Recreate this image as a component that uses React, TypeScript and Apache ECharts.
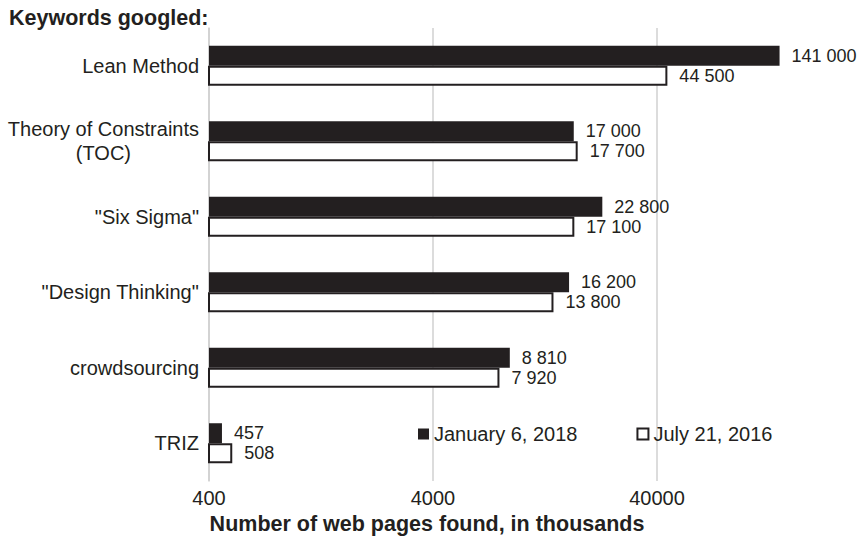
import React, { useEffect, useRef } from "react";
import * as echarts from "echarts";

const categories = [
  "Lean Method",
  "Theory of Constraints\n(TOC)",
  "\"Six Sigma\"",
  "\"Design Thinking\"",
  "crowdsourcing",
  "TRIZ",
];
const jan2018 = [141000, 17000, 22800, 16200, 8810, 457];
const jul2016 = [44500, 17700, 17100, 13800, 7920, 508];
const tickValues = [400, 4000, 40000];
const seriesNames = ["January 6, 2018", "July 21, 2016"];

const FONT = "'Liberation Sans', Arial, sans-serif";
const INK = "#231f20";

const fmt = (v: number) => String(v).replace(/\B(?=(\d{3})+(?!\d))/g, " ");

export default function App() {
  const ref = useRef<HTMLDivElement>(null);
  useEffect(() => {
    if (!ref.current) return;
    const chart = echarts.init(ref.current, null, { renderer: "svg" });
    const valueLabel = {
      show: true,
      position: "right",
      distance: 12,
      fontFamily: FONT,
      fontSize: 18,
      color: INK,
      formatter: (p: any) => fmt(p.value),
    };
    chart.setOption({
      animation: false,
      textStyle: { fontFamily: FONT, color: INK },
      title: {
        text: "Keywords googled:",
        left: 4,
        top: 2,
        textStyle: { fontFamily: FONT, fontSize: 21.5, fontWeight: "bold", color: INK },
      },
      legend: {
        left: 413,
        top: 419,
        itemGap: 59,
        itemWidth: 11,
        itemHeight: 11,
        icon: "rect",
        textStyle: { fontFamily: FONT, fontSize: 20, color: INK },
        data: [
          { name: seriesNames[0], itemStyle: { color: INK, borderWidth: 0 } },
          { name: seriesNames[1], itemStyle: { color: "#fff", borderColor: INK, borderWidth: 2 } },
        ],
      },
      // the 400 000 edge of the log scale lies just past the right border
      grid: {
        left: 209,
        width: 672,
        top: 28,
        bottom: 61,
        containLabel: false,
        outerBoundsMode: "none",
      },
      xAxis: {
        type: "log",
        logBase: 10,
        min: 400,
        max: 400000,
        name: "Number of web pages found, in thousands",
        nameLocation: "middle",
        nameGap: 32,
        nameTextStyle: {
          fontFamily: FONT,
          fontSize: 21.5,
          fontWeight: "bold",
          color: INK,
          padding: [0, 236, 0, 0],
        },
        axisLine: { show: false },
        axisTick: { show: false, customValues: tickValues },
        axisLabel: {
          customValues: tickValues,
          fontFamily: FONT,
          fontSize: 20,
          color: INK,
          margin: 7,
          formatter: (v: number) => String(Math.round(v)),
        },
        splitLine: { show: true, lineStyle: { color: "#d0d0d0", width: 1.5 } },
      },
      yAxis: {
        type: "category",
        inverse: true,
        data: categories,
        axisLine: { show: true, lineStyle: { color: "#d0d0d0", width: 1.5 } },
        axisTick: { show: false },
        axisLabel: {
          fontFamily: FONT,
          fontSize: 20,
          color: INK,
          margin: 10,
          lineHeight: 24,
          formatter: (v: string) =>
            v
              .split("\n")
              .map((line) => `{c|${line}}`)
              .join("\n"),
          rich: {
            c: { fontFamily: FONT, fontSize: 20, color: INK, align: "center", lineHeight: 24 },
          },
        },
      },
      series: [
        {
          name: seriesNames[0],
          type: "bar",
          data: jan2018,
          barGap: "0%",
          barCategoryGap: "47%",
          itemStyle: { color: INK },
          label: valueLabel,
        },
        {
          name: seriesNames[1],
          type: "bar",
          data: jul2016,
          barGap: "0%",
          barCategoryGap: "47%",
          itemStyle: { color: "#fff", borderColor: INK, borderWidth: 2 },
          label: valueLabel,
        },
      ],
    });
    return () => chart.dispose();
  }, []);
  return <div ref={ref} style={{ width: 864, height: 542, position: "absolute", left: 0, top: 0 }} />;
}
